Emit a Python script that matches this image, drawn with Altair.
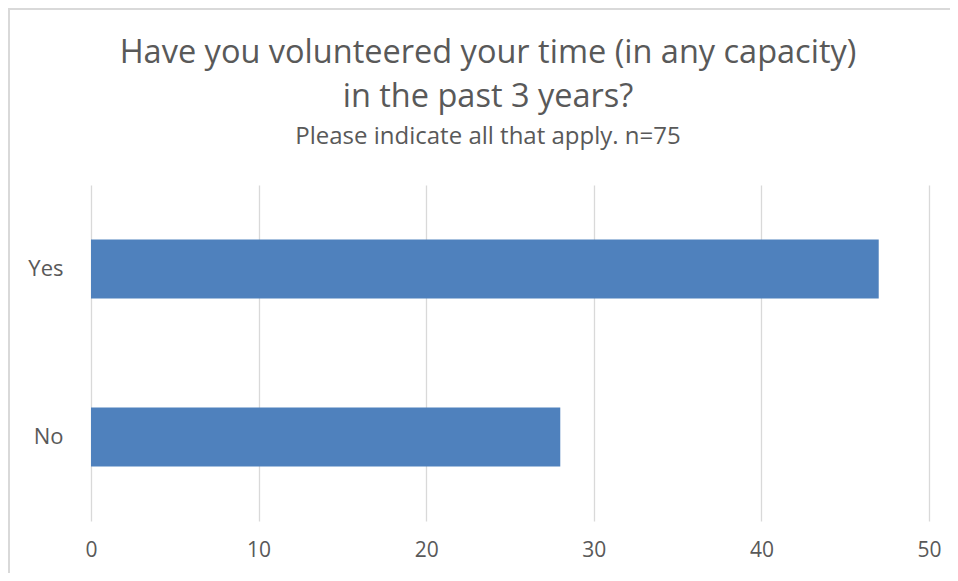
import altair as alt
import pandas as pd

categories = ["Yes", "No"]
counts = [47, 28]
tick_values = [0, 10, 20, 30, 40, 50]

title_lines = ["Have you volunteered your time (in any capacity)", "in the past 3 years?"]
subtitle_text = "Please indicate all that apply. n=75"

df = pd.DataFrame({"answer": categories, "count": counts})

TEXT = "#595959"
GRID = "#D9D9D9"
BAR = "#4F81BD"
FONT = "Open Sans"

W, H = 838, 336
PL, PT, PR, PB = 83, 177, 21, 52

bars = alt.Chart(df).mark_bar(color=BAR).encode(
    x=alt.X(
        "count:Q",
        scale=alt.Scale(domain=[0, 50], nice=False),
        axis=alt.Axis(
            values=tick_values,
            title=None,
            grid=True,
            gridColor=GRID,
            gridWidth=1.3,
            domain=False,
            ticks=False,
            labelFlush=False,
            labelFontSize=21,
            labelColor=TEXT,
            labelFont=FONT,
            labelPadding=18,
        ),
    ),
    y=alt.Y(
        "answer:N",
        sort=categories,
        scale=alt.Scale(paddingInner=0.65, paddingOuter=0.325),
        axis=alt.Axis(
            title=None,
            domain=False,
            ticks=False,
            grid=False,
            labelFontSize=22,
            labelColor=TEXT,
            labelFont=FONT,
            labelPadding=28,
        ),
    ),
)

frame_data = alt.Data(values=[{"k": 1}])
frame_left = alt.Chart(frame_data).mark_rule(color=GRID, strokeWidth=2).encode(
    x=alt.value(-PL + 1), y=alt.value(-PT), y2=alt.value(H + PB)
)
frame_top = alt.Chart(frame_data).mark_rule(color=GRID, strokeWidth=2).encode(
    x=alt.value(-PL), x2=alt.value(W + PR), y=alt.value(-PT + 1)
)

chart = alt.layer(frame_left, frame_top, bars).properties(
    width=W,
    height=H,
    autosize=alt.AutoSizeParams(type="none"),
    padding={"left": PL, "top": PT, "right": PR, "bottom": PB},
    title=alt.TitleParams(
        text=title_lines,
        subtitle=subtitle_text,
        anchor="middle",
        frame="group",
        dx=-22,
        fontSize=32.5,
        font=FONT,
        fontWeight="normal",
        color=TEXT,
        lineHeight=44,
        subtitleFont=FONT,
        subtitleFontSize=24,
        subtitleColor=TEXT,
        subtitlePadding=12,
        offset=-142,
    ),
).configure(background="white", view=alt.ViewConfig(stroke=None))

chart.save("out.html", embed_options={"renderer": "svg", "actions": False})
